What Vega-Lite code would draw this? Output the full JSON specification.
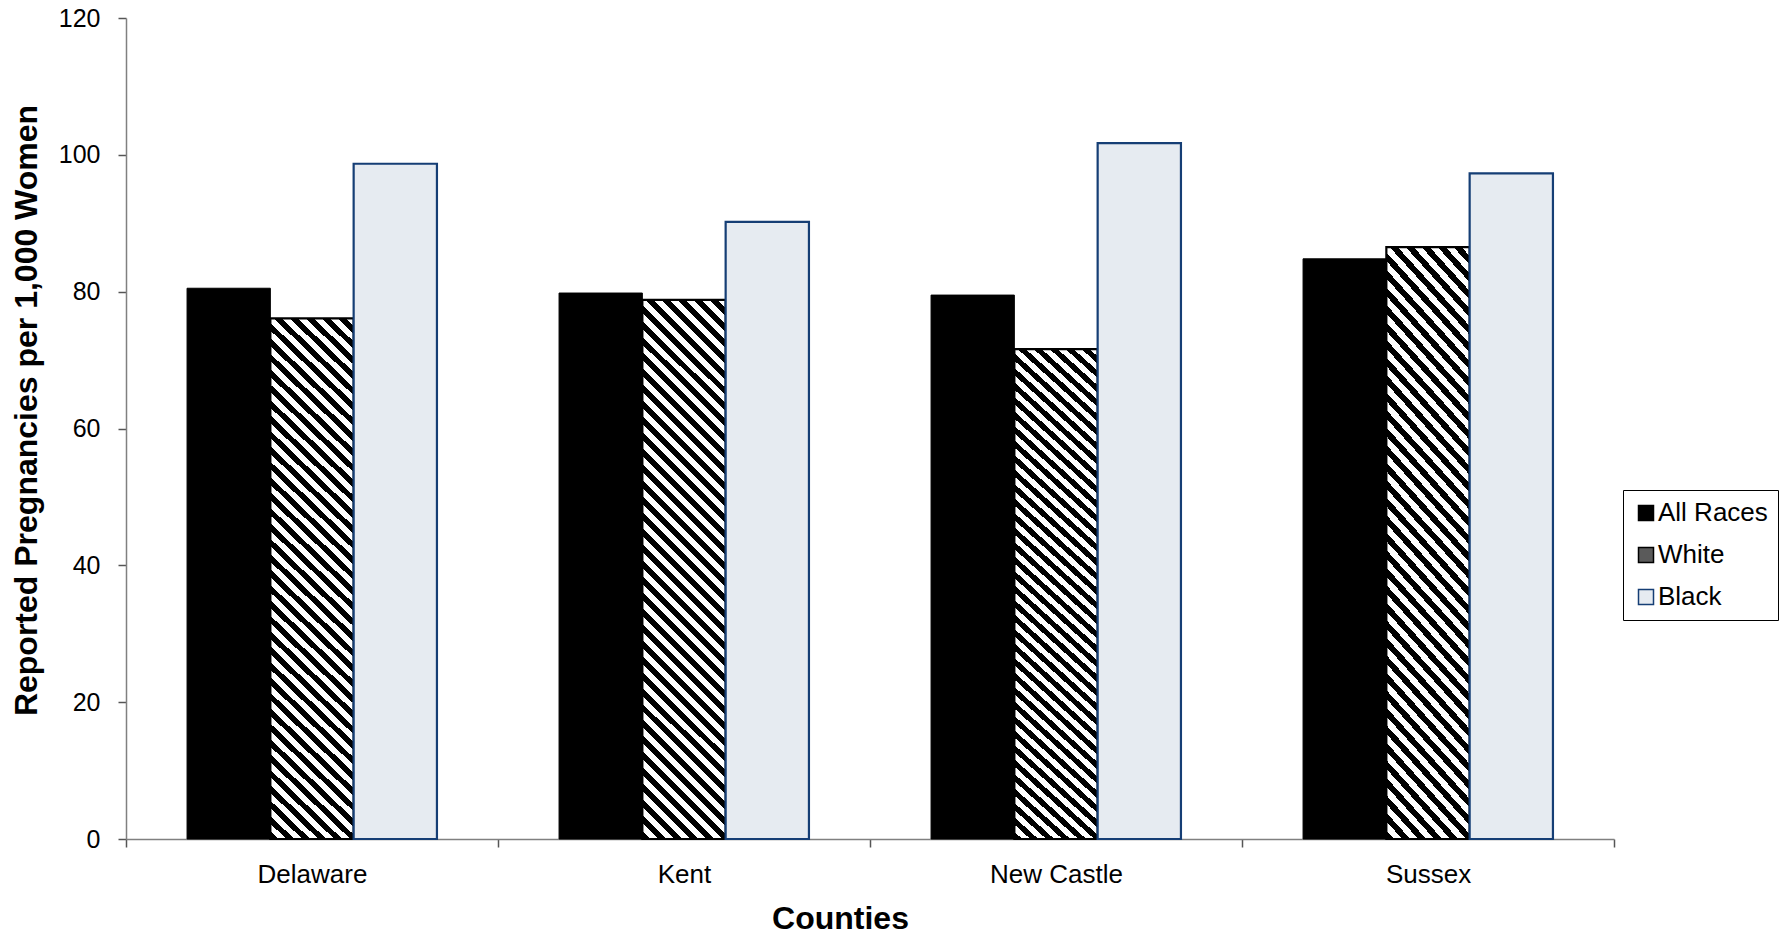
{
  "$schema": "https://vega.github.io/schema/vega-lite/v6.json",
  "autosize": {"type": "none"},
  "width": 1488,
  "height": 821,
  "padding": {"left": 126, "top": 18, "right": 165, "bottom": 101},
  "background": "#ffffff",
  "config": {
    "font": "Liberation Sans",
    "view": {"stroke": null}
  },
  "data": {
    "values": [
      {"county": "Delaware", "race": "All Races", "value": 80.5},
      {"county": "Delaware", "race": "White", "value": 76.1},
      {"county": "Delaware", "race": "Black", "value": 98.7},
      {"county": "Kent", "race": "All Races", "value": 79.8},
      {"county": "Kent", "race": "White", "value": 78.8},
      {"county": "Kent", "race": "Black", "value": 90.2},
      {"county": "New Castle", "race": "All Races", "value": 79.5},
      {"county": "New Castle", "race": "White", "value": 71.6},
      {"county": "New Castle", "race": "Black", "value": 101.7},
      {"county": "Sussex", "race": "All Races", "value": 84.8},
      {"county": "Sussex", "race": "White", "value": 86.5},
      {"county": "Sussex", "race": "Black", "value": 97.3}
    ]
  },
  "mark": {"type": "bar"},
  "encoding": {
    "x": {
      "field": "county",
      "type": "nominal",
      "sort": ["Delaware", "Kent", "New Castle", "Sussex"],
      "scale": {"paddingInner": 0, "paddingOuter": 0},
      "axis": {
        "title": "Counties",
        "titleFont": "Liberation Sans",
        "titleFontSize": 32,
        "titleFontWeight": "bold",
        "titleColor": "#000000",
        "titleX": 714,
        "titleY": 89,
        "titleAlign": "center",
        "titleBaseline": "alphabetic",
        "labelAngle": 0,
        "labelFontSize": 26,
        "labelColor": "#000000",
        "labelPadding": 14,
        "tickBand": "extent",
        "tickSize": 8,
        "tickColor": "#555555",
        "tickWidth": 1.5,
        "domainColor": "#808080",
        "domainWidth": 1.5
      }
    },
    "xOffset": {
      "field": "race",
      "type": "nominal",
      "scale": {"domain": ["All Races", "White", "Black"], "paddingInner": 0, "paddingOuter": 0.733}
    },
    "y": {
      "field": "value",
      "type": "quantitative",
      "scale": {"domain": [0, 120], "nice": false},
      "axis": {
        "values": [0, 20, 40, 60, 80, 100, 120],
        "grid": false,
        "title": "Reported Pregnancies per 1,000 Women",
        "titleFont": "Liberation Sans",
        "titleFontSize": 32,
        "titleFontWeight": "bold",
        "titleColor": "#000000",
        "titleAngle": -90,
        "titleX": -90,
        "titleY": 392,
        "titleAlign": "center",
        "titleBaseline": "alphabetic",
        "labelFontSize": 25,
        "labelColor": "#000000",
        "labelPadding": 18,
        "tickSize": 8,
        "tickColor": "#555555",
        "tickWidth": 1.5,
        "domainColor": "#808080",
        "domainWidth": 1.5
      }
    },
    "fill": {
      "field": "race",
      "type": "nominal",
      "scale": {"domain": ["All Races", "White", "Black"], "range": ["#000000", "#5a5a5a", "#e6ebf1"]},
      "legend": {
        "title": null,
        "orient": "none",
        "legendX": 1497,
        "legendY": 472,
        "padding": 10,
        "strokeColor": "#000000",
        "fillColor": "#ffffff",
        "symbolType": "square",
        "symbolSize": 225,
        "symbolStrokeWidth": 1.5,
        "labelFontSize": 26,
        "labelColor": "#000000",
        "labelOffset": -1,
        "rowPadding": 16
      },
      "condition": {
        "test": "datum.race === 'White'",
        "value": {
          "gradient": "linear",
          "x1": 0, "y1": 1, "x2": 0.17392, "y2": -0.12742,
          "stops": [
            {"offset": 0, "color": "#000"},
            {"offset": 0.01282, "color": "#000"}, {"offset": 0.01282, "color": "#fff"},
            {"offset": 0.02564, "color": "#fff"}, {"offset": 0.02564, "color": "#000"},
            {"offset": 0.03846, "color": "#000"}, {"offset": 0.03846, "color": "#fff"},
            {"offset": 0.05128, "color": "#fff"}, {"offset": 0.05128, "color": "#000"},
            {"offset": 0.0641, "color": "#000"}, {"offset": 0.0641, "color": "#fff"},
            {"offset": 0.07692, "color": "#fff"}, {"offset": 0.07692, "color": "#000"},
            {"offset": 0.08974, "color": "#000"}, {"offset": 0.08974, "color": "#fff"},
            {"offset": 0.10256, "color": "#fff"}, {"offset": 0.10256, "color": "#000"},
            {"offset": 0.11538, "color": "#000"}, {"offset": 0.11538, "color": "#fff"},
            {"offset": 0.12821, "color": "#fff"}, {"offset": 0.12821, "color": "#000"},
            {"offset": 0.14103, "color": "#000"}, {"offset": 0.14103, "color": "#fff"},
            {"offset": 0.15385, "color": "#fff"}, {"offset": 0.15385, "color": "#000"},
            {"offset": 0.16667, "color": "#000"}, {"offset": 0.16667, "color": "#fff"},
            {"offset": 0.17949, "color": "#fff"}, {"offset": 0.17949, "color": "#000"},
            {"offset": 0.19231, "color": "#000"}, {"offset": 0.19231, "color": "#fff"},
            {"offset": 0.20513, "color": "#fff"}, {"offset": 0.20513, "color": "#000"},
            {"offset": 0.21795, "color": "#000"}, {"offset": 0.21795, "color": "#fff"},
            {"offset": 0.23077, "color": "#fff"}, {"offset": 0.23077, "color": "#000"},
            {"offset": 0.24359, "color": "#000"}, {"offset": 0.24359, "color": "#fff"},
            {"offset": 0.25641, "color": "#fff"}, {"offset": 0.25641, "color": "#000"},
            {"offset": 0.26923, "color": "#000"}, {"offset": 0.26923, "color": "#fff"},
            {"offset": 0.28205, "color": "#fff"}, {"offset": 0.28205, "color": "#000"},
            {"offset": 0.29487, "color": "#000"}, {"offset": 0.29487, "color": "#fff"},
            {"offset": 0.30769, "color": "#fff"}, {"offset": 0.30769, "color": "#000"},
            {"offset": 0.32051, "color": "#000"}, {"offset": 0.32051, "color": "#fff"},
            {"offset": 0.33333, "color": "#fff"}, {"offset": 0.33333, "color": "#000"},
            {"offset": 0.34615, "color": "#000"}, {"offset": 0.34615, "color": "#fff"},
            {"offset": 0.35897, "color": "#fff"}, {"offset": 0.35897, "color": "#000"},
            {"offset": 0.37179, "color": "#000"}, {"offset": 0.37179, "color": "#fff"},
            {"offset": 0.38462, "color": "#fff"}, {"offset": 0.38462, "color": "#000"},
            {"offset": 0.39744, "color": "#000"}, {"offset": 0.39744, "color": "#fff"},
            {"offset": 0.41026, "color": "#fff"}, {"offset": 0.41026, "color": "#000"},
            {"offset": 0.42308, "color": "#000"}, {"offset": 0.42308, "color": "#fff"},
            {"offset": 0.4359, "color": "#fff"}, {"offset": 0.4359, "color": "#000"},
            {"offset": 0.44872, "color": "#000"}, {"offset": 0.44872, "color": "#fff"},
            {"offset": 0.46154, "color": "#fff"}, {"offset": 0.46154, "color": "#000"},
            {"offset": 0.47436, "color": "#000"}, {"offset": 0.47436, "color": "#fff"},
            {"offset": 0.48718, "color": "#fff"}, {"offset": 0.48718, "color": "#000"},
            {"offset": 0.5, "color": "#000"}, {"offset": 0.5, "color": "#fff"},
            {"offset": 0.51282, "color": "#fff"}, {"offset": 0.51282, "color": "#000"},
            {"offset": 0.52564, "color": "#000"}, {"offset": 0.52564, "color": "#fff"},
            {"offset": 0.53846, "color": "#fff"}, {"offset": 0.53846, "color": "#000"},
            {"offset": 0.55128, "color": "#000"}, {"offset": 0.55128, "color": "#fff"},
            {"offset": 0.5641, "color": "#fff"}, {"offset": 0.5641, "color": "#000"},
            {"offset": 0.57692, "color": "#000"}, {"offset": 0.57692, "color": "#fff"},
            {"offset": 0.58974, "color": "#fff"}, {"offset": 0.58974, "color": "#000"},
            {"offset": 0.60256, "color": "#000"}, {"offset": 0.60256, "color": "#fff"},
            {"offset": 0.61538, "color": "#fff"}, {"offset": 0.61538, "color": "#000"},
            {"offset": 0.62821, "color": "#000"}, {"offset": 0.62821, "color": "#fff"},
            {"offset": 0.64103, "color": "#fff"}, {"offset": 0.64103, "color": "#000"},
            {"offset": 0.65385, "color": "#000"}, {"offset": 0.65385, "color": "#fff"},
            {"offset": 0.66667, "color": "#fff"}, {"offset": 0.66667, "color": "#000"},
            {"offset": 0.67949, "color": "#000"}, {"offset": 0.67949, "color": "#fff"},
            {"offset": 0.69231, "color": "#fff"}, {"offset": 0.69231, "color": "#000"},
            {"offset": 0.70513, "color": "#000"}, {"offset": 0.70513, "color": "#fff"},
            {"offset": 0.71795, "color": "#fff"}, {"offset": 0.71795, "color": "#000"},
            {"offset": 0.73077, "color": "#000"}, {"offset": 0.73077, "color": "#fff"},
            {"offset": 0.74359, "color": "#fff"}, {"offset": 0.74359, "color": "#000"},
            {"offset": 0.75641, "color": "#000"}, {"offset": 0.75641, "color": "#fff"},
            {"offset": 0.76923, "color": "#fff"}, {"offset": 0.76923, "color": "#000"},
            {"offset": 0.78205, "color": "#000"}, {"offset": 0.78205, "color": "#fff"},
            {"offset": 0.79487, "color": "#fff"}, {"offset": 0.79487, "color": "#000"},
            {"offset": 0.80769, "color": "#000"}, {"offset": 0.80769, "color": "#fff"},
            {"offset": 0.82051, "color": "#fff"}, {"offset": 0.82051, "color": "#000"},
            {"offset": 0.83333, "color": "#000"}, {"offset": 0.83333, "color": "#fff"},
            {"offset": 0.84615, "color": "#fff"}, {"offset": 0.84615, "color": "#000"},
            {"offset": 0.85897, "color": "#000"}, {"offset": 0.85897, "color": "#fff"},
            {"offset": 0.87179, "color": "#fff"}, {"offset": 0.87179, "color": "#000"},
            {"offset": 0.88462, "color": "#000"}, {"offset": 0.88462, "color": "#fff"},
            {"offset": 0.89744, "color": "#fff"}, {"offset": 0.89744, "color": "#000"},
            {"offset": 0.91026, "color": "#000"}, {"offset": 0.91026, "color": "#fff"},
            {"offset": 0.92308, "color": "#fff"}, {"offset": 0.92308, "color": "#000"},
            {"offset": 0.9359, "color": "#000"}, {"offset": 0.9359, "color": "#fff"},
            {"offset": 0.94872, "color": "#fff"}, {"offset": 0.94872, "color": "#000"},
            {"offset": 0.96154, "color": "#000"}, {"offset": 0.96154, "color": "#fff"},
            {"offset": 0.97436, "color": "#fff"}, {"offset": 0.97436, "color": "#000"},
            {"offset": 0.98718, "color": "#000"}, {"offset": 0.98718, "color": "#fff"},
            {"offset": 1, "color": "#fff"}
          ]
        }
      }
    },
    "stroke": {
      "field": "race",
      "type": "nominal",
      "scale": {"domain": ["All Races", "White", "Black"], "range": ["#000000", "#000000", "#153e75"]},
      "legend": {
        "title": null,
        "orient": "none",
        "legendX": 1497,
        "legendY": 472,
        "padding": 10,
        "strokeColor": "#000000",
        "fillColor": "#ffffff",
        "symbolType": "square",
        "symbolSize": 225,
        "symbolStrokeWidth": 1.5,
        "labelFontSize": 26,
        "labelColor": "#000000",
        "labelOffset": -1,
        "rowPadding": 16
      }
    },
    "strokeWidth": {
      "condition": {"test": "datum.race === 'All Races'", "value": 1},
      "value": 2.2
    }
  }
}
